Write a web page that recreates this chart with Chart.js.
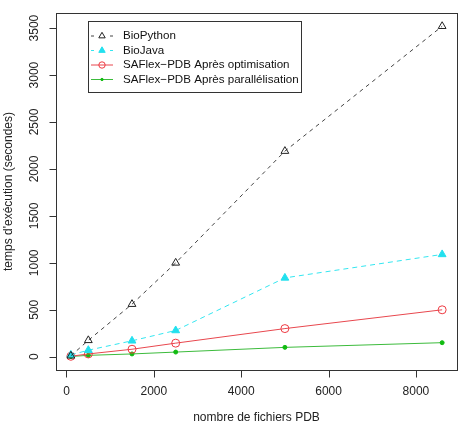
<!DOCTYPE html>
<html>
<head>
<meta charset="utf-8">
<script src="https://cdn.jsdelivr.net/npm/chart.js@4/dist/chart.umd.min.js"></script>
<style>
  html, body { margin: 0; padding: 0; background: #fff; }
  #wrap { width: 463px; height: 431px; }
</style>
</head>
<body>
<div id="wrap"><canvas id="chart" width="463" height="431"></canvas></div>
<script>
let files = [100, 500, 1500, 2500, 5000, 8600];
let bioPython = [10, 175, 560, 1000, 2190, 3520];
let bioJava = [20, 70, 170, 280, 840, 1090];
let saflexOpt = [5, 30, 80, 145, 300, 500];
let saflexPar = [3, 15, 30, 50, 100, 150];
let xTicks = [0, 2000, 4000, 6000, 8000];
let yTicks = [0, 500, 1000, 1500, 2000, 2500, 3000, 3500];

let labels = ["BioPython", "BioJava", "SAFlex\u2212PDB Après optimisation", "SAFlex\u2212PDB Après parallélisation"];
let font = "12px 'Liberation Sans', Arial, sans-serif";
let legendFont = "11.6px 'Liberation Sans', Arial, sans-serif";

function pts(values) {
    return files.map((x, i) => ({ x: x, y: values[i] }));
}

let chartData = {
  datasets: [
    {
      label: labels[0], data: pts(bioPython),
      borderColor: "#444444", borderWidth: 1, borderDash: [4, 4],
      pointStyle: "triangle", pointRadius: 4.5, pointBorderColor: "#222", pointBackgroundColor: "rgba(0,0,0,0)", pointBorderWidth: 1
    },
    {
      label: labels[1], data: pts(bioJava),
      borderColor: "#33e6f0", borderWidth: 1, borderDash: [5, 4],
      pointStyle: "triangle", pointRadius: 4.5, pointBorderColor: "#22e0ee", pointBackgroundColor: "#22e0ee", pointBorderWidth: 1
    },
    {
      label: labels[2], data: pts(saflexOpt),
      borderColor: "#e8474e", borderWidth: 1,
      pointStyle: "circle", pointRadius: 4, pointBorderColor: "#ee3a42", pointBackgroundColor: "rgba(0,0,0,0)", pointBorderWidth: 1
    },
    {
      label: labels[3], data: pts(saflexPar),
      borderColor: "#3cbb3c", borderWidth: 1,
      pointStyle: "circle", pointRadius: 2, pointBorderColor: "#11bb11", pointBackgroundColor: "#11bb11", pointBorderWidth: 1
    }
  ]
};

// R-style box, axes and legend
let rStyle = {
  id: "rStyle",
  afterDraw(chart) {
    let c = chart.ctx;
    let a = chart.chartArea;
    let xs = chart.scales.x;
    let ys = chart.scales.y;
    c.save();
    c.strokeStyle = "#333";
    c.lineWidth = 1;
    c.strokeRect(Math.round(a.left) + 0.5, Math.round(a.top) + 0.5, Math.round(a.right - a.left), Math.round(a.bottom - a.top));

    c.fillStyle = "#222";
    c.font = font;

    // x axis
    let yb = Math.round(a.bottom) + 0.5;
    c.beginPath();
    c.moveTo(xs.getPixelForValue(xTicks[0]), yb);
    c.lineTo(xs.getPixelForValue(xTicks[xTicks.length - 1]), yb);
    xTicks.forEach(t => {
      let px = Math.round(xs.getPixelForValue(t)) + 0.5;
      c.moveTo(px, yb);
      c.lineTo(px, yb + 7);
    });
    c.stroke();
    c.textAlign = "center";
    c.textBaseline = "middle";
    xTicks.forEach(t => c.fillText(String(t), xs.getPixelForValue(t), yb + 21));
    c.fillText("nombre de fichiers PDB", (a.left + a.right) / 2, 418);

    // y axis
    let xl = Math.round(a.left) + 0.5;
    c.beginPath();
    c.moveTo(xl, ys.getPixelForValue(yTicks[0]));
    c.lineTo(xl, ys.getPixelForValue(yTicks[yTicks.length - 1]));
    yTicks.forEach(t => {
      let py = Math.round(ys.getPixelForValue(t)) + 0.5;
      c.moveTo(xl, py);
      c.lineTo(xl - 7, py);
    });
    c.stroke();
    yTicks.forEach(t => {
      c.save();
      c.translate(xl - 22, ys.getPixelForValue(t));
      c.rotate(-Math.PI / 2);
      c.fillText(String(t), 0, 0);
      c.restore();
    });
    c.save();
    c.translate(9, (a.top + a.bottom) / 2);
    c.rotate(-Math.PI / 2);
    c.fillText("temps d'exécution (secondes)", 0, 0);
    c.restore();

    // legend
    c.strokeStyle = "#333";
    c.strokeRect(88.5, 21.5, 213, 71);
    c.font = legendFont;
    let rowY = [36, 50.5, 65, 79.5];
    chart.data.datasets.forEach((ds, i) => {
      let y = rowY[i];
      c.save();
      c.strokeStyle = ds.borderColor;
      c.lineWidth = 1;
      c.beginPath();
      if (ds.borderDash) {
        c.moveTo(91, y); c.lineTo(94, y);
        c.moveTo(110, y); c.lineTo(113, y);
      } else {
        c.moveTo(91, y); c.lineTo(113, y);
      }
      c.stroke();
      c.fillStyle = ds.pointBackgroundColor;
      c.strokeStyle = ds.pointBorderColor;
      Chart.helpers.drawPoint(c, {
        pointStyle: ds.pointStyle, radius: ds.pointRadius - 0.8, borderWidth: 1, rotation: 0
      }, 102, y);
      c.restore();
      c.fillStyle = "#111";
      c.textAlign = "left";
      c.fillText(ds.label, 123, y);
    });
    c.restore();
  }
};

let ctx = document.getElementById("chart");
let chart = new Chart(ctx,
{
  type: "line",
  data: chartData,
  plugins: [rStyle],
  options: {
    responsive: false,
    animation: false,
    layout: { padding: { left: 56, right: 6, top: 13, bottom: 61 } },
    plugins: { legend: { display: false }, tooltip: { enabled: false } },
    scales: {
      x: { type: "linear", min: -240, max: 8940, display: false },
      y: { type: "linear", min: -141, max: 3661, display: false }
    }
  }
});
</script>
</body>
</html>
